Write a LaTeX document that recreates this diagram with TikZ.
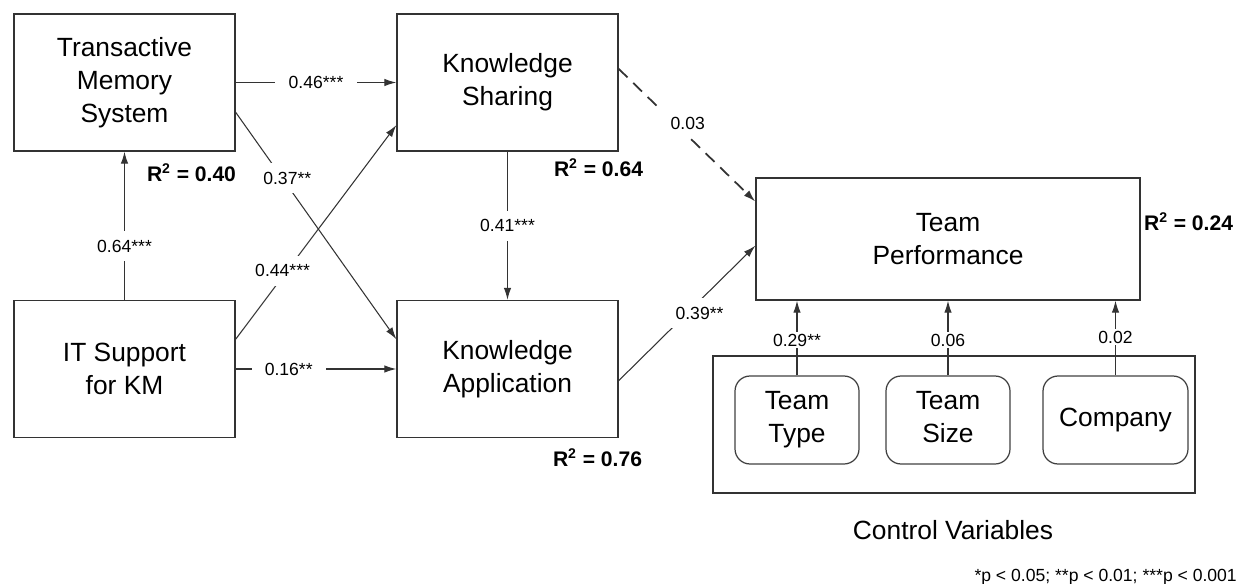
\documentclass[tikz,border=0pt]{standalone}
\usepackage{fontspec}
\setmainfont{Liberation Sans}
\usetikzlibrary{arrows.meta}

\begin{document}
\begin{tikzpicture}[x=0.02cm,y=-0.02cm,every text node part/.style={align=center},
	var/.style={draw=black!80, line width=0.8pt, minimum width=4.42cm, minimum height=2.74cm, font=\fontsize{15}{18.7}\selectfont},
	ctrl/.style={draw=black!75, line width=0.7pt, rounded corners=0.3cm, minimum width=2.48cm, minimum height=1.76cm, font=\fontsize{15}{18.7}\selectfont},
	link/.style={draw=black!80, line width=0.6pt, -{Latex[length=2.4mm,width=1.5mm]}},
	coef/.style={fill=white, inner xsep=7.5pt, inner ysep=5pt, font=\fontsize{10}{12}\selectfont},
	ctrlcoef/.style={coef, inner xsep=2pt, inner ysep=1pt},
	rsq/.style={font=\fontsize{12}{14}\selectfont\bfseries}]
		
		\useasboundingbox (0,0) rectangle (1250,584);
		
		\node[var] (tms) at (124.5,82.5) {Transactive\\Memory\\System};
		\node[var] (ks) at (507.5,82.5) {Knowledge\\Sharing};
		\node[var] (it) at (124.5,369) {IT Support\\for KM};
		\node[var] (ka) at (507.5,369) {Knowledge\\Application};
		\node[var, minimum width=7.68cm, minimum height=2.44cm] (tp) at (948,239) {Team\\Performance};
		
		\node[draw=black!80, line width=0.8pt, minimum width=9.64cm, minimum height=2.74cm] (cv) at (954,424.5) {};
		\node[ctrl] (ttype) at (797,420) {Team\\Type};
		\node[ctrl] (tsize) at (948,420) {Team\\Size\vphantom{y}};
		\node[ctrl, minimum width=2.9cm] (comp) at (1115.5,420) {Company};
		
		\node[rsq] (r2tms) at (191.5,173) {R\textsuperscript{2} = 0.40};
		\node[rsq] (r2ks) at (598.5,168) {R\textsuperscript{2} = 0.64};
		\node[rsq] (r2ka) at (597.5,458) {R\textsuperscript{2} = 0.76};
		\node[rsq] (r2tp) at (1188.5,222) {R\textsuperscript{2} = 0.24};
		
		\draw[link] (it) -- node[coef, pos=0.36] {0.64***} (tms);
		\draw[link] (tms) -- node[coef] {0.46***} (ks);
		\draw[link] (tms.-15) -- node[coef, pos=0.29, xshift=0.1cm] {0.37**} (ka.165);
		\draw[link] (it.15) -- node[coef, pos=0.32, xshift=-0.09cm] {0.44***} (ks.201);
		\draw[link] (it) -- node[coef, pos=0.33] {0.16**} (ka);
		\draw[link] (ks) -- node[coef, pos=0.5] {0.41***} (ka);
		\draw[link, line width=1pt, dash pattern=on 7pt off 4.5pt] (ks.7.5) -- node[coef, pos=0.41, xshift=0.26cm] {0.03} (tp.169);
		\draw[link] (ka.-6.6) -- node[coef, pos=0.5, xshift=0.25cm] {0.39**} (tp.182);
		
		\draw[link] (ttype) -- node[ctrlcoef, pos=0.47] {0.29**} (ttype |- tp.south);
		\draw[link] (tsize) -- node[ctrlcoef, pos=0.47] {0.06} (tsize |- tp.south);
		\draw[link] (comp) -- node[ctrlcoef, pos=0.51] {0.02} (comp |- tp.south);
		
		\node[font=\fontsize{15}{18}\selectfont] (cvlabel) at (953,530) {Control Variables};
		\node[font=\fontsize{10}{12}\selectfont, anchor=east] (note) at (1243,577) {*p < 0.05; **p < 0.01; ***p < 0.001};
		
		\end{tikzpicture}
\end{document}
